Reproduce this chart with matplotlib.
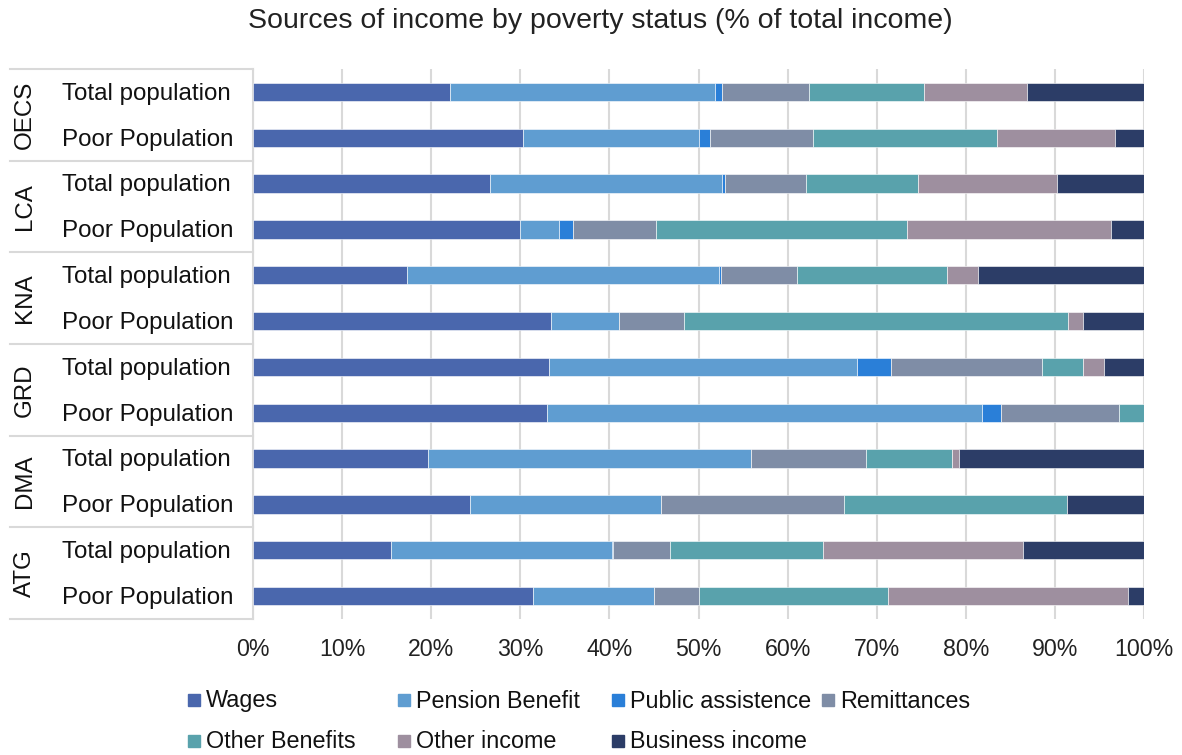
import matplotlib
matplotlib.use('Agg')
import numpy as np
import matplotlib.pyplot as plt
from matplotlib import transforms
from matplotlib.patches import Rectangle

plt.rcParams['font.family'] = ['Liberation Sans', 'DejaVu Sans']

# rows listed from top to bottom
groups = ['OECS', 'LCA', 'KNA', 'GRD', 'DMA', 'ATG']
statuses = ['Total population', 'Poor Population']

series = ['Wages', 'Pension Benefit', 'Public assistence', 'Remittances',
          'Other Benefits', 'Other income', 'Business income']
colors = ['#4A67AD', '#5F9DD1', '#2A7FD8', '#7F8DA6',
          '#59A2AC', '#9E8F9F', '#2C3D67']

# shares in %, order: OECS tot, OECS poor, LCA tot, LCA poor, ... ATG poor
wages       = [22.1, 30.3, 26.6, 30.0, 17.3, 33.4, 33.2, 33.0, 19.6, 24.4, 15.5, 31.4]
pension     = [29.7, 19.8, 26.0,  4.3, 35.0,  7.7, 34.6, 48.8, 36.3, 21.4, 24.8, 13.6]
public_asst = [ 0.8,  1.2,  0.4,  1.6,  0.2,  0.0,  3.8,  2.2,  0.0,  0.0,  0.1,  0.0]
remittances = [ 9.8, 11.5,  9.1,  9.3,  8.5,  7.3, 17.0, 13.2, 12.9, 20.5,  6.4,  5.1]
other_ben   = [12.9, 20.7, 12.5, 28.2, 16.9, 43.1,  4.6,  2.8,  9.7, 25.1, 17.2, 21.2]
other_inc   = [11.6, 13.2, 15.6, 22.9,  3.5,  1.7,  2.3,  0.0,  0.7,  0.0, 22.4, 26.9]
business    = [13.1,  3.3,  9.8,  3.7, 18.6,  6.8,  4.5,  0.0, 20.8,  8.6, 13.6,  1.8]

data = [wages, pension, public_asst, remittances, other_ben, other_inc, business]

W, H = 1182, 755
fig = plt.figure(figsize=(W / 100, H / 100), dpi=100)
ax = fig.add_axes([253 / W, 1 - 619 / H, (1144 - 253) / W, (619 - 69) / H])

n = len(groups) * len(statuses)
y = np.arange(n)
left = np.zeros(n)
for vals, col, name in zip(data, colors, series):
    v = np.array(vals) / 100.0
    ax.barh(y, v, left=left, height=0.4, color=col, edgecolor='white',
            linewidth=0.4, label=name, zorder=3)
    left += v

ax.set_ylim(n - 0.5, -0.5)
ax.set_xlim(0, 1)
ax.set_xticks(np.linspace(0, 1, 11))
ax.set_xticklabels(['%d%%' % p for p in range(0, 101, 10)], fontsize=16.7)
ax.tick_params(axis='x', length=0, pad=14, colors='#222222')
ax.set_yticks([])
ax.grid(axis='x', color='#D9D9D9', linewidth=1.5, zorder=0)
for s in ['top', 'right', 'bottom']:
    ax.spines[s].set_visible(False)
ax.spines['left'].set_color('#D9D9D9')
ax.spines['left'].set_linewidth(1.5)

# two-level category labels
tr = transforms.blended_transform_factory(fig.transFigure, ax.transData)
for i in range(n):
    ax.text(62 / W, i + 0.04, statuses[i % 2], transform=tr, ha='left', va='center',
            fontsize=17.4, color='#111111')
for g, name in enumerate(groups):
    ax.text(25 / W, 2 * g + 0.5, name, transform=tr, rotation=90,
            ha='center', va='center', fontsize=17.4, color='#111111')
for b in range(len(groups) + 1):
    ax.plot([10 / W, 253 / W], [2 * b - 0.5, 2 * b - 0.5], transform=tr,
            color='#D9D9D9', linewidth=1.5, clip_on=False)

fig.text(600 / W, 1 - 21 / H, 'Sources of income by poverty status (% of total income)',
         ha='center', va='center', fontsize=20.5, color='#222222')

# legend laid out like the original (two rows, fixed columns)
col_x = [188, 398, 612, 822]
row_y = [700, 741]
for k, (name, col) in enumerate(zip(series, colors)):
    r, c = divmod(k, 4)
    x0, y0 = col_x[c], row_y[r]
    fig.add_artist(Rectangle((x0 / W, 1 - (y0 + 6) / H), 12 / W, 12 / H,
                             transform=fig.transFigure, color=col))
    fig.text((x0 + 18) / W, 1 - (y0 + 1) / H, name, ha='left', va='center',
             fontsize=16.8, color='#111111')

fig.savefig('out.png', dpi=100)
